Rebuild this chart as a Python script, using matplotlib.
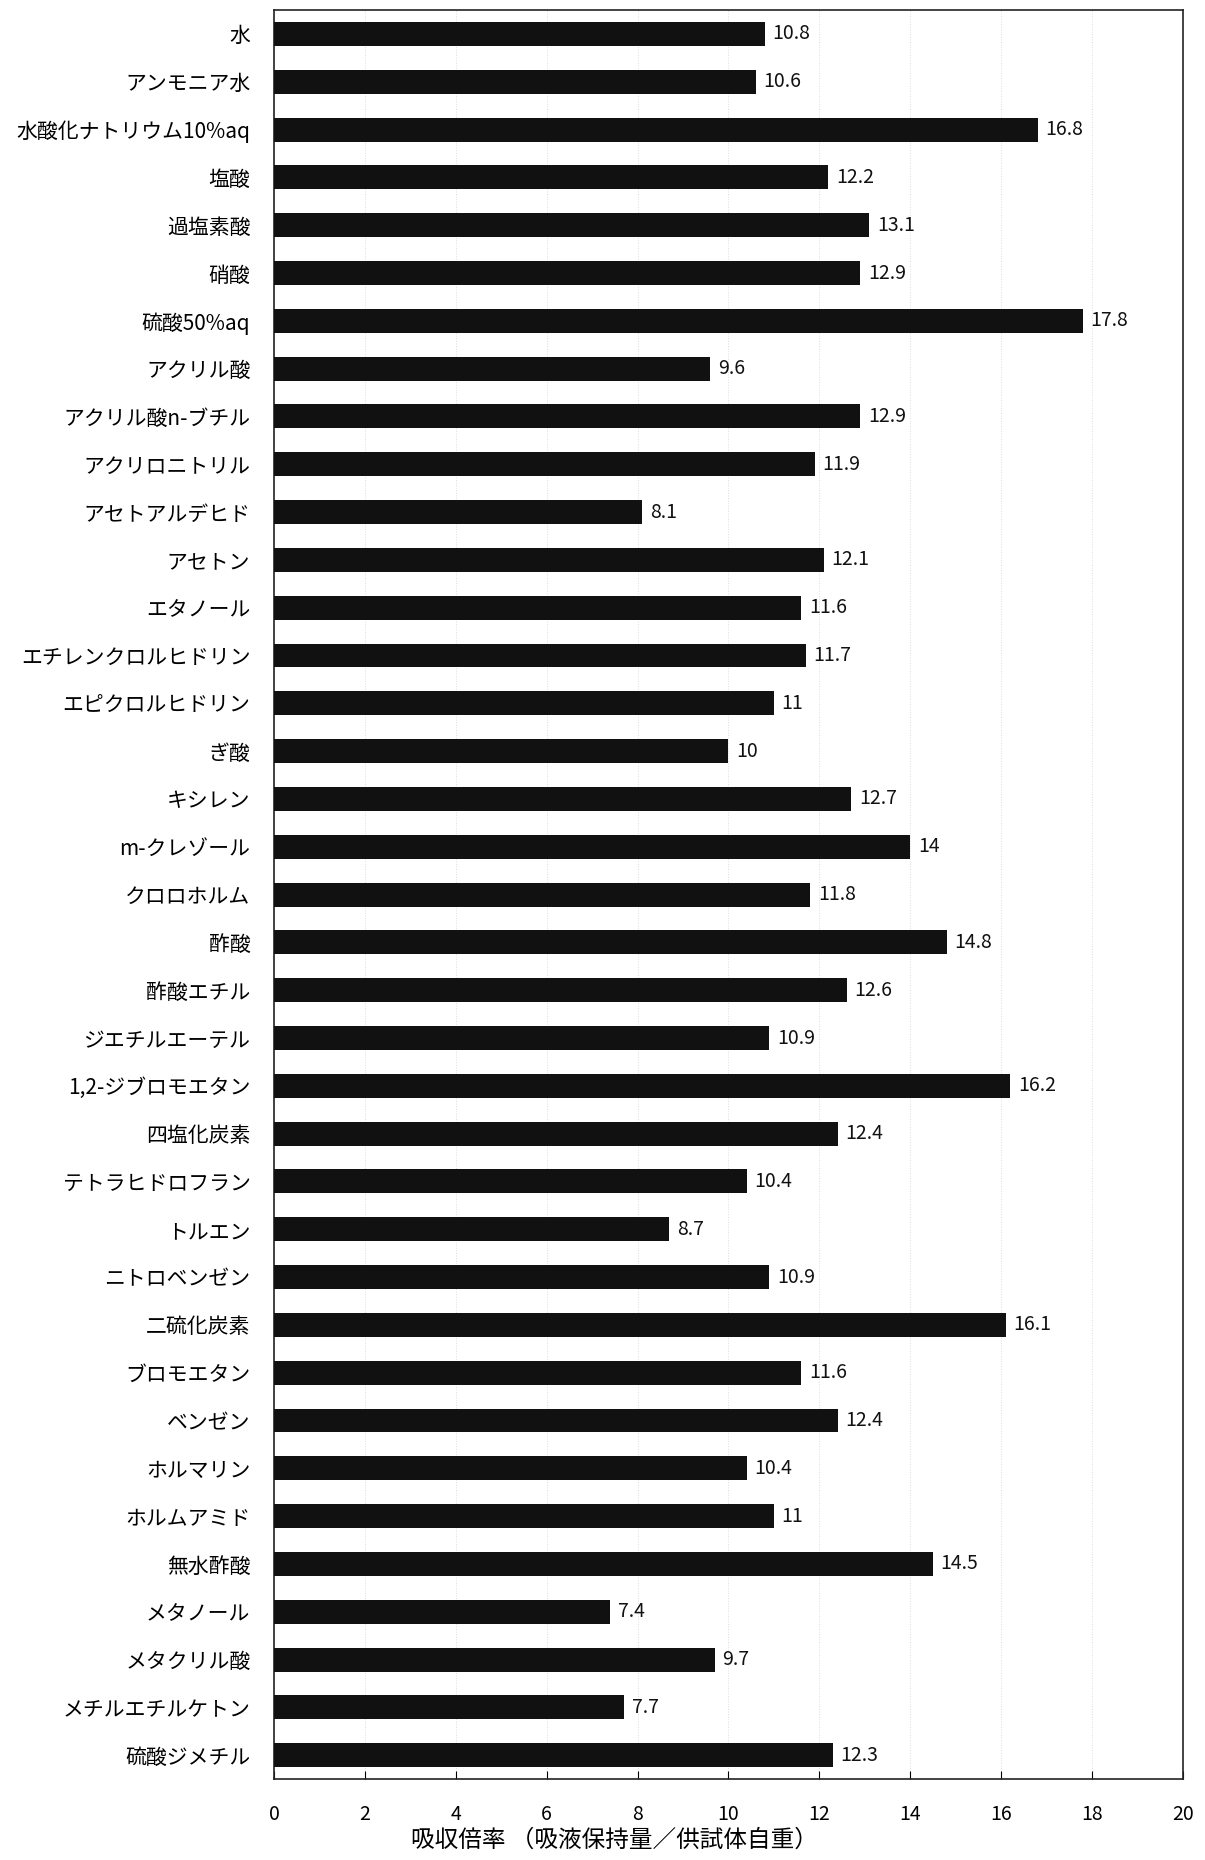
import matplotlib
matplotlib.use("Agg")
import matplotlib.pyplot as plt

plt.rcParams['font.family'] = ['Noto Sans CJK JP', 'DejaVu Sans']

categories = [
    "水", "アンモニア水", "水酸化ナトリウム10%aq", "塩酸", "過塩素酸", "硝酸",
    "硫酸50%aq", "アクリル酸", "アクリル酸n-ブチル", "アクリロニトリル",
    "アセトアルデヒド", "アセトン", "エタノール", "エチレンクロルヒドリン",
    "エピクロルヒドリン", "ぎ酸", "キシレン", "m-クレゾール", "クロロホルム",
    "酢酸", "酢酸エチル", "ジエチルエーテル", "1,2-ジブロモエタン", "四塩化炭素",
    "テトラヒドロフラン", "トルエン", "ニトロベンゼン", "二硫化炭素", "ブロモエタン",
    "ベンゼン", "ホルマリン", "ホルムアミド", "無水酢酸", "メタノール",
    "メタクリル酸", "メチルエチルケトン", "硫酸ジメチル",
]
values = [
    10.8, 10.6, 16.8, 12.2, 13.1, 12.9, 17.8, 9.6, 12.9, 11.9,
    8.1, 12.1, 11.6, 11.7, 11, 10, 12.7, 14, 11.8, 14.8,
    12.6, 10.9, 16.2, 12.4, 10.4, 8.7, 10.9, 16.1, 11.6, 12.4,
    10.4, 11, 14.5, 7.4, 9.7, 7.7, 12.3,
]
value_labels = [f"{v:g}" for v in values]
xticks = [0, 2, 4, 6, 8, 10, 12, 14, 16, 18, 20]
xlabel = "吸収倍率 （吸液保持量／供試体自重）"

fig = plt.figure(figsize=(12.05, 18.6), dpi=100)
ax = fig.add_axes([0.2274, 0.0435, 0.7543, 0.9511])

pos = list(range(len(categories)))
ax.barh(pos, values, height=0.5, color='#111111', zorder=3)
for p, v, lab in zip(pos, values, value_labels):
    ax.text(v + 0.17, p, lab, va='center', ha='left', fontsize=14,
            color='#111111')

ax.set_ylim(len(categories) - 0.5, -0.5)
ax.set_xlim(0, 20)
ax.set_yticks(pos)
ax.set_yticklabels(categories, fontsize=15)
ax.tick_params(axis='y', length=0, pad=17)
ax.set_xticks(xticks)
ax.set_xticklabels([str(t) for t in xticks], fontsize=14)
ax.tick_params(axis='x', direction='in', length=6, pad=18)
ax.xaxis.grid(True, linestyle=':', color='#dddddd', linewidth=0.7, zorder=0)
for s in ax.spines.values():
    s.set_linewidth(1.2)
    s.set_color('#222222')
ax.set_xlabel(xlabel, fontsize=17, labelpad=4)
ax.xaxis.set_label_coords(0.375, -0.028)

fig.savefig("out.png", dpi=100)
